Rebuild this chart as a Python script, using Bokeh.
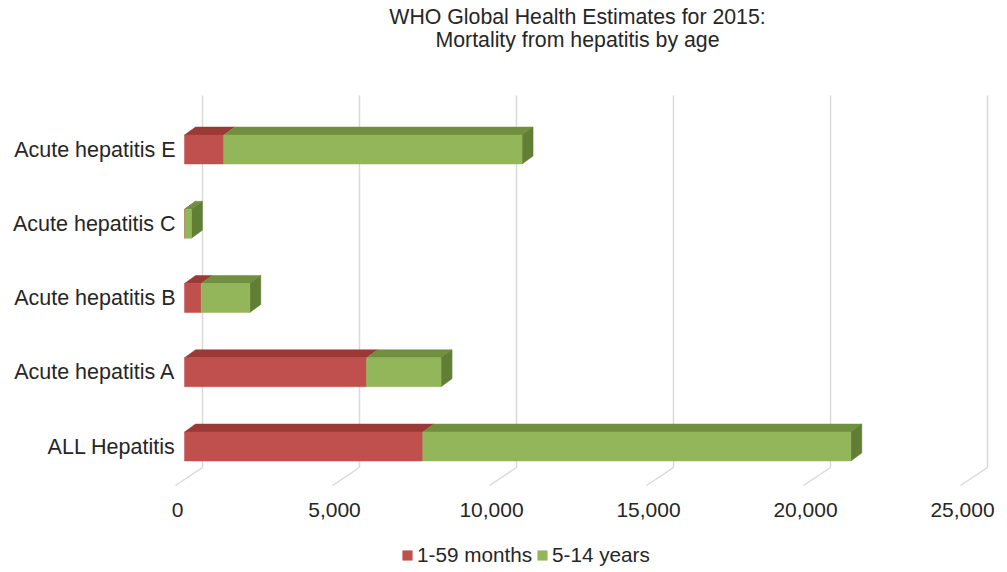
from bokeh.plotting import figure
from bokeh.models import FixedTicker, NumeralTickFormatter, Legend, LegendItem, Range1d, Label
from bokeh.embed import file_html
from bokeh.resources import INLINE

# ---- data ----
categories = ["ALL Hepatitis", "Acute hepatitis A", "Acute hepatitis B", "Acute hepatitis C", "Acute hepatitis E"]
months_1_59 = [7590, 5800, 530, 10, 1250]
years_5_14 = [13630, 2370, 1550, 210, 9500]
series_names = ["1-59 months", "5-14 years"]
x_ticks = [0, 5000, 10000, 15000, 20000, 25000]
title_lines = ["WHO Global Health Estimates for 2015:", "Mortality from hepatitis by age"]

FONT = "Liberation Sans"
TXT = "#262626"
RED_F, RED_T = "#C0504D", "#9A3936"
GRN_F, GRN_T, GRN_S = "#94B65A", "#71903F", "#617F34"

px_per_unit_x = 31.4 / 1000.0
px_per_unit_y = 74.25
W, H = 1007, 572
zero_px = 184          # pixel column of value 0 on the bars' front face
yaxis_px = 180         # pixel column of the (invisible) category axis
axis_px = 492          # pixel row of the (invisible) x axis line
label_shift_px = 7     # tick labels sit on the chart's front edge, a little left of the bars

def px_to_x(px):
    return (px - zero_px) / px_per_unit_x

def py_to_y(py):
    return 4 + (149 - py) / px_per_unit_y

p = figure(width=W, height=H, output_backend="svg", toolbar_location=None,
           title_location=None,
           x_range=Range1d(px_to_x(0), px_to_x(W)),
           y_range=Range1d(py_to_y(H), py_to_y(0)),
           min_border_left=0, min_border_right=0,
           min_border_top=0, min_border_bottom=0)
shift = label_shift_px / px_per_unit_x
p.extra_x_ranges = {"front": Range1d(px_to_x(0) + shift, px_to_x(W) + shift)}
p.outline_line_color = None
p.grid.visible = False
p.background_fill_color = "white"

# title (two centred lines)
for line, py in zip(title_lines, [16, 39]):
    p.add_layout(Label(x=px_to_x(577), y=py_to_y(py), text=line, text_align="center",
                       text_baseline="middle", text_font=FONT, text_font_size="21.3px",
                       text_color=TXT))

# 3D geometry (style)
dx = 11 / px_per_unit_x
dy = 8 / px_per_unit_y
h = 0.195
wall_dx = 18 / px_per_unit_x
floor_back = py_to_y(467)
grid_top = py_to_y(95)
floor_dx = 27 / px_per_unit_x
floor_dy = 18 / px_per_unit_y

# back wall gridlines + floor lines
gx = [t + wall_dx for t in x_ticks]
p.segment(x0=gx, y0=[floor_back] * len(gx), x1=gx, y1=[grid_top] * len(gx),
          line_color="#D9D9D9", line_width=1.5)
p.segment(x0=gx, y0=[floor_back] * len(gx), x1=[g - floor_dx for g in gx],
          y1=[floor_back - floor_dy] * len(gx), line_color="#D9D9D9", line_width=1.5)

ys = list(range(len(categories)))
red_l = [0] * len(ys)
red_r = months_1_59
grn_l = months_1_59
grn_r = [a + b for a, b in zip(months_1_59, years_5_14)]

def top_polys(lefts, rights):
    xs, yy = [], []
    for l, r, c in zip(lefts, rights, ys):
        xs.append([l, r, r + dx, l + dx])
        yy.append([c + h, c + h, c + h + dy, c + h + dy])
    return xs, yy

rx, ry = top_polys(red_l, red_r)
p.patches(rx, ry, fill_color=RED_T, line_color=RED_T, line_width=0.5)
gxs, gys = top_polys(grn_l, grn_r)
p.patches(gxs, gys, fill_color=GRN_T, line_color=GRN_T, line_width=0.5)

sxs, sys_ = [], []
for r, c in zip(grn_r, ys):
    sxs.append([r, r + dx, r + dx, r])
    sys_.append([c - h, c - h + dy, c + h + dy, c + h])
p.patches(sxs, sys_, fill_color=GRN_S, line_color=GRN_S, line_width=0.5)

r_red = p.quad(left=red_l, right=red_r, bottom=[c - h for c in ys], top=[c + h for c in ys],
               fill_color=RED_F, line_color=RED_F, line_width=0.5)
r_grn = p.quad(left=grn_l, right=grn_r, bottom=[c - h for c in ys], top=[c + h for c in ys],
               fill_color=GRN_F, line_color=GRN_F, line_width=0.5)

# axes
p.xaxis.x_range_name = "front"
p.xaxis.ticker = FixedTicker(ticks=x_ticks)
p.xaxis.formatter = NumeralTickFormatter(format="0,0")
p.xaxis.fixed_location = py_to_y(axis_px)
p.yaxis.ticker = FixedTicker(ticks=ys)
p.yaxis.major_label_overrides = {i: c for i, c in enumerate(categories)}
p.yaxis.fixed_location = px_to_x(yaxis_px)
for ax in (p.xaxis[0], p.yaxis[0]):
    ax.axis_line_color = None
    ax.major_tick_line_color = None
    ax.minor_tick_line_color = None
    ax.major_tick_out = 0
    ax.major_tick_in = 0
    ax.major_label_text_font = FONT
    ax.major_label_text_color = TXT
p.xaxis.major_label_text_font_size = "21px"
p.yaxis.major_label_text_font_size = "21.5px"
p.yaxis.major_label_standoff = 5
p.xaxis.major_label_standoff = 10

legend = Legend(items=[LegendItem(label=series_names[0], renderers=[r_red]),
                       LegendItem(label=series_names[1], renderers=[r_grn])],
                orientation="horizontal", location=(401, 5))
legend.label_text_font = FONT
legend.label_text_font_size = "20.7px"
legend.label_text_color = TXT
legend.glyph_width = 12
legend.glyph_height = 12
legend.label_standoff = 4
legend.spacing = 4
legend.padding = 4
legend.margin = 0
legend.border_line_color = None
legend.background_fill_alpha = 0
p.add_layout(legend, "center")

open("out.html", "w").write(file_html(p, INLINE))
